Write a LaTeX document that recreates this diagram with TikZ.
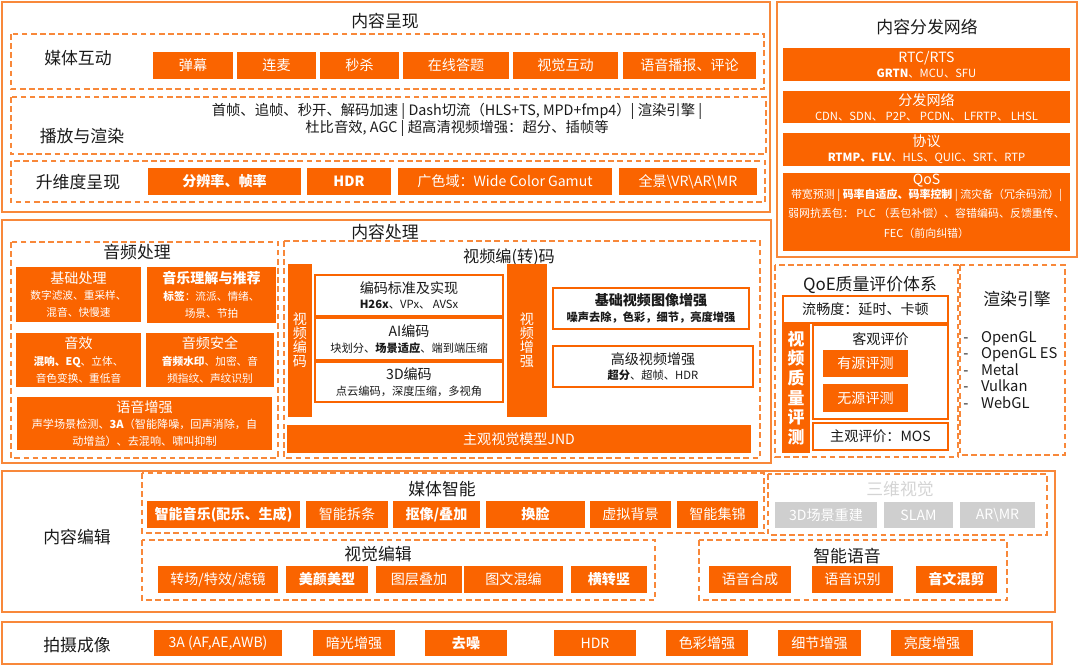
\documentclass[tikz,border=0pt]{standalone}
\usepackage{fontspec}
\setmainfont{Noto Sans CJK SC}
\usetikzlibrary{positioning}
\definecolor{cheng}{HTML}{FA6400}
\definecolor{chengxian}{HTML}{F8883A}
\definecolor{hui}{HTML}{CFCFCF}
\definecolor{huizi}{HTML}{D4D4D4}
\definecolor{mo}{HTML}{1A1A1A}
\newcommand{\dazi}{\fontsize{12}{14}\selectfont}
\newcommand{\zhongzi}{\fontsize{10}{12}\selectfont}
\newcommand{\xiaozi}{\fontsize{8}{10.5}\selectfont}
\newcommand{\yinzi}{\fontsize{7.6}{10}\selectfont}
\tikzset{
  sz/.style 2 args={minimum width=#1*0.025cm, minimum height=#2*0.025cm},
  waikuang/.style={draw=chengxian, line width=1.3pt},
  xukuang/.style={draw=chengxian, line width=1pt, dash pattern=on 4pt off 2.5pt},
  kuai/.style={fill=cheng, text=white, inner sep=0pt, font=\zhongzi, align=center},
  baikuai/.style={draw=cheng, fill=white, line width=0.9pt, text=mo, inner sep=0pt, font=\zhongzi, align=center},
  huikuai/.style={fill=hui, text=white, inner sep=0pt, font=\zhongzi},
  biaoti/.style={text=mo, inner sep=0pt, font=\dazi},
  wenzi/.style={text=mo, inner sep=0pt, font=\zhongzi, align=center},
}
\begin{document}
\begin{tikzpicture}[x=0.025cm, y=-0.025cm]
  \useasboundingbox (0,0) rectangle (1080,666);

  % 内容呈现
  \draw[waikuang] (2,2) rectangle (770,212);
  \node[biaoti] (t-chengxian) at (385,21) {内容呈现};
  \draw[xukuang] (11,34) rectangle (764,89);
  \node[biaoti] (l-hudong) at (78,58) {媒体互动};
  \node[kuai, sz={80}{27}] (danmu) at (193,65.5) {弹幕};
  \node[kuai, sz={79}{27}] (lianmai) at (276.5,65.5) {连麦};
  \node[kuai, sz={79}{27}] (miaosha) at (359.5,65.5) {秒杀};
  \node[kuai, sz={106}{27}] (dati) at (456,65.5) {在线答题};
  \node[kuai, sz={105}{27}] (shijue) at (565.5,65.5) {视觉互动};
  \node[kuai, sz={133}{27}] (bobao) at (689.5,65.5) {语音播报、评论};
  \draw[xukuang] (11,97) rectangle (766,154);
  \node[biaoti] (l-bofang) at (82,136) {播放与渲染};
  \node[wenzi, font=\fontsize{10.2}{11.6}\selectfont] (bofang) at (457,120)
    {首帧、追帧、秒开、解码加速 | Dash切流（HLS+TS, MPD+fmp4）| 渲染引擎 |\\杜比音效, AGC | 超高清视频增强：超分、插帧等};
  \draw[xukuang] (11,161) rectangle (765,202);
  \node[biaoti] (l-shengwei) at (78,182) {升维度呈现};
  \node[kuai, sz={153}{27}] (fenbian) at (224.5,181.5) {\textbf{分辨率、帧率}};
  \node[kuai, sz={84}{27}] (hdr1) at (349,181.5) {\textbf{HDR}};
  \node[kuai, sz={214}{27}] (seyu) at (505,181.5) {广色域：Wide Color Gamut};
  \node[kuai, sz={138}{27}] (quanjing) at (688,181.5) {全景\textbackslash VR\textbackslash AR\textbackslash MR};

  % 内容分发网络
  \draw[waikuang] (777,2) rectangle (1077,257);
  \node[biaoti] (t-fenfa) at (927,27) {内容分发网络};
  \node[kuai, sz={287}{33}] (rtc) at (926.5,64.5) {RTC/RTS\\[-1.5pt]{\xiaozi\textbf{GRTN}、MCU、SFU}};
  \node[kuai, sz={287}{32}] (wangluo) at (926.5,107) {分发网络\\[-1.5pt]{\xiaozi CDN、SDN、 P2P、 PCDN、 LFRTP、 LHSL}};
  \node[kuai, sz={287}{33}] (xieyi) at (926.5,149.5) {协议\\[-1.5pt]{\xiaozi\textbf{RTMP、FLV}、HLS、QUIC、SRT、RTP}};
  \node[kuai, sz={287}{78}] (qos) at (926.5,212) {};
  \node[wenzi, text=white, font=\fontsize{7.8}{14}\selectfont] (qos-t) at (926.5,206.5)
    {{\zhongzi QoS}\\[-4.5pt]带宽预测 | \textbf{码率自适应、码率控制} | 流灾备（冗余码流）|\\弱网抗丢包： PLC （丢包补偿）、容错编码、反馈重传、\\FEC（前向纠错）};

  % 内容处理
  \draw[waikuang] (2,220) rectangle (771,463);
  \node[biaoti] (t-chuli) at (385,232) {内容处理};
  \draw[xukuang] (11,242) rectangle (278,458);
  \node[biaoti] (t-yinpin) at (137,252) {音频处理};
  \node[kuai, sz={125}{55}] (jichu) at (78.5,294.5) {基础处理\\\yinzi 数字滤波、重采样、\\\yinzi 混音、快慢速};
  \node[kuai, sz={129}{56}] (yinyue) at (211.5,295) {\textbf{音乐理解与推荐}\\\yinzi\textbf{标签}：流派、情绪、\\\yinzi 场景、节拍};
  \node[kuai, sz={125}{54}] (yinxiao) at (78.5,360) {音效\\\yinzi\textbf{混响、EQ}、立体、\\\yinzi 音色变换、重低音};
  \node[kuai, sz={128}{54}] (anquan) at (210,360) {音频安全\\\yinzi\textbf{音频水印}、加密、音\\\yinzi 频指纹、声纹识别};
  \node[kuai, sz={255}{53}] (yuyin) at (144.5,423.5) {语音增强\\\fontsize{7.9}{10}\selectfont 声学场景检测、\textbf{3A}（智能降噪，回声消除，自\\\fontsize{7.9}{10}\selectfont 动增益）、去混响、啸叫抑制};

  \draw[xukuang] (284,241) rectangle (760,458);
  \node[biaoti, font=\fontsize{11.5}{14}\selectfont] (t-shipin) at (509,257) {视频编(转)码};
  \node[kuai, sz={24}{153}, font=\fontsize{10}{10}\selectfont] (bianma) at (300,340.5) {视\\频\\编\\码};
  \node[baikuai, sz={188}{41}] (biaozhun) at (409,295.5) {编码标准及实现\\[-1pt]{\xiaozi\textbf{H26x}、VPx、 AVSx}};
  \node[baikuai, sz={188}{42}] (ai) at (409,339) {AI编码\\[-1pt]{\xiaozi 块划分、\textbf{场景适应}、端到端压缩}};
  \node[baikuai, sz={188}{40}] (sanwei) at (409,382) {3D编码\\[-1pt]{\xiaozi 点云编码，深度压缩，多视角}};
  \node[kuai, sz={40}{153}, font=\fontsize{10}{10}\selectfont] (zengqiang) at (527,340.5) {视\\频\\增\\强};
  \node[baikuai, sz={196}{41}] (jichuzq) at (651,308.5) {\textbf{基础视频图像增强}\\[-1pt]{\xiaozi\textbf{噪声去除，色彩，细节，亮度增强}}};
  \node[baikuai, sz={200}{41}] (gaoji) at (653,366.5) {高级视频增强\\[-1pt]{\xiaozi\textbf{超分}、超帧、HDR}};
  \node[kuai, sz={464}{28}] (jnd) at (519,439) {主观视觉模型JND};

  % QoE质量评价体系
  \draw[xukuang] (775,265) rectangle (958,457);
  \node[biaoti] (t-qoe) at (870,285) {QoE质量评价体系};
  \node[baikuai, sz={165}{27}] (liuchang) at (865.5,309.5) {流畅度：延时、卡顿};
  \node[kuai, sz={28}{130}, font=\fontsize{12}{14}\selectfont\bfseries] (pingce) at (796,388) {视\\频\\质\\量\\评\\测};
  \node[baikuai, sz={135}{94}] (keguan) at (880.5,372) {};
  \node[wenzi] (t-keguan) at (880.5,339) {客观评价};
  \node[kuai, sz={85}{27}] (youyuan) at (865.5,363.5) {有源评测};
  \node[kuai, sz={85}{28}] (wuyuan) at (865.5,398) {无源评测};
  \node[baikuai, sz={135}{27}] (zhuguan) at (880.5,436.5) {主观评价：MOS};

  % 渲染引擎
  \draw[xukuang] (960,265) rectangle (1065,455);
  \node[biaoti] (t-xuanran) at (1017,299) {渲染引擎};
  \node[text=mo, anchor=west, inner sep=0pt, font=\fontsize{10.5}{11.7}\selectfont] (xuanran) at (963,372)
    {\begin{tabular}{@{}l@{\hspace{9pt}}l@{}}-&OpenGL\\-&OpenGL ES\\-&Metal\\-&Vulkan\\-&WebGL\end{tabular}};

  % 内容编辑
  \draw[waikuang] (2,471) rectangle (1055,612);
  \node[biaoti] (l-bianji) at (77,537) {内容编辑};
  \draw[xukuang] (142,473) rectangle (764,533);
  \node[biaoti] (t-zhineng) at (442,489) {媒体智能};
  \node[kuai, sz={153}{27}] (yinle) at (223.5,514.5) {\textbf{智能音乐(配乐、生成)}};
  \node[kuai, sz={82}{27}] (chaitiao) at (347,514.5) {智能拆条};
  \node[kuai, sz={87}{27}] (kouxiang) at (436.5,514.5) {\textbf{抠像/叠加}};
  \node[kuai, sz={99}{27}] (huanlian) at (535.5,514.5) {\textbf{换脸}};
  \node[kuai, sz={81}{27}] (beijing) at (630.5,514.5) {虚拟背景};
  \node[kuai, sz={81}{27}] (jijin) at (717.5,514.5) {智能集锦};
  \draw[xukuang] (768,474) rectangle (1047,535);
  \node[biaoti, text=huizi] (t-sanwei) at (900,489) {三维视觉};
  \node[huikuai, sz={102}{26}] (chongjian) at (826,515) {3D场景重建};
  \node[huikuai, sz={69}{26}] (slam) at (918.5,515) {SLAM};
  \node[huikuai, sz={75}{26}] (armr) at (997.5,515) {AR\textbackslash MR};
  \draw[xukuang] (142,540) rectangle (655,600);
  \node[biaoti] (t-shijue) at (378,554) {视觉编辑};
  \node[kuai, sz={120}{27}] (zhuanchang) at (218,579.5) {转场/特效/滤镜};
  \node[kuai, sz={82}{27}] (meiyan) at (327,579.5) {\textbf{美颜美型}};
  \node[kuai, sz={86}{27}] (tuceng) at (419,579.5) {图层叠加};
  \node[kuai, sz={99}{27}] (tuwen) at (513.5,579.5) {图文混编};
  \node[kuai, sz={76}{27}] (hengshu) at (609,579.5) {\textbf{横转竖}};
  \draw[xukuang] (699,540) rectangle (1007,600);
  \node[biaoti] (t-yuyin) at (847,556) {智能语音};
  \node[kuai, sz={82}{27}] (hecheng) at (750,579.5) {语音合成};
  \node[kuai, sz={81}{27}] (shibie) at (852.5,579.5) {语音识别};
  \node[kuai, sz={81}{27}] (hunjian) at (956.5,579.5) {\textbf{音文混剪}};

  % 拍摄成像
  \draw[waikuang] (2,622) rectangle (1052,664);
  \node[biaoti] (l-paishe) at (77,645) {拍摄成像};
  \node[kuai, sz={128}{26}] (sana) at (218,643) {3A (AF,AE,AWB)};
  \node[kuai, sz={82}{26}] (anguang) at (354,643) {暗光增强};
  \node[kuai, sz={82}{26}] (quzao) at (466,643) {\textbf{去噪}};
  \node[kuai, sz={82}{26}] (hdr2) at (595,643) {HDR};
  \node[kuai, sz={82}{26}] (secai) at (707,643) {色彩增强};
  \node[kuai, sz={83}{26}] (xijie) at (819.5,643) {细节增强};
  \node[kuai, sz={82}{26}] (liangdu) at (932,643) {亮度增强};
\end{tikzpicture}
\end{document}
